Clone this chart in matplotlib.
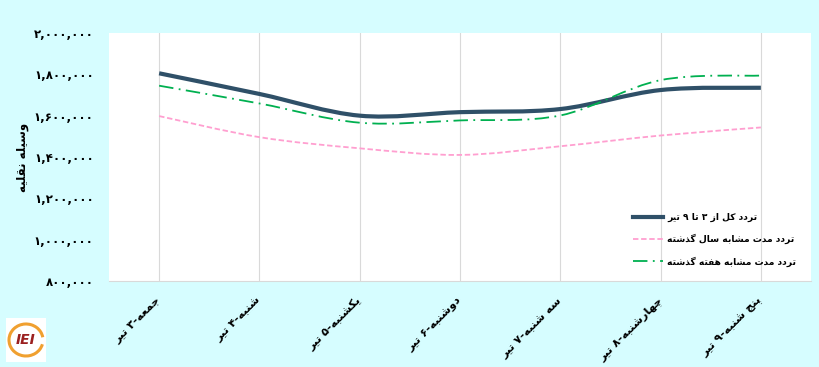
import numpy as np
import matplotlib
matplotlib.use("Agg")
import matplotlib.pyplot as plt
from matplotlib.path import Path
from matplotlib.patches import PathPatch, Rectangle, Arc
from matplotlib.lines import Line2D
from matplotlib.ticker import FuncFormatter, MultipleLocator

plt.rcParams['font.family'] = ['DejaVu Sans', 'Noto Sans']

# data
days = ["جمعه-۳ تیر", "شنبه-۴ تیر", "یکشنبه-۵ تیر", "دوشنبه-۶ تیر",
        "سه شنبه-۷ تیر", "چهارشنبه-۸ تیر", "پنج شنبه-۹ تیر"]
total_week = [1805000, 1705000, 1600000, 1617000, 1632000, 1724000, 1735000]
last_year = [1598000, 1496000, 1442000, 1410000, 1452000, 1504000, 1543000]
last_week = [1745000, 1659000, 1566000, 1577000, 1601000, 1772000, 1794000]
series_names = ["تردد کل از ۳ تا ۹ تیر", "تردد مدت مشابه سال گذشته",
                "تردد مدت مشابه هفته گذشته"]
ylabel = "وسیله نقلیه"

# simple arabic/persian shaping (no reshaper lib available)
FORMS = {
    'ا': (0xFE8D, 0xFE8E), 'ب': (0xFE8F, 0xFE90, 0xFE91, 0xFE92),
    'پ': (0xFB56, 0xFB57, 0xFB58, 0xFB59), 'ت': (0xFE95, 0xFE96, 0xFE97, 0xFE98),
    'ج': (0xFE9D, 0xFE9E, 0xFE9F, 0xFEA0), 'چ': (0xFB7A, 0xFB7B, 0xFB7C, 0xFB7D),
    'د': (0xFEA9, 0xFEAA), 'ذ': (0xFEAB, 0xFEAC), 'ر': (0xFEAD, 0xFEAE),
    'ز': (0xFEAF, 0xFEB0), 'س': (0xFEB1, 0xFEB2, 0xFEB3, 0xFEB4),
    'ش': (0xFEB5, 0xFEB6, 0xFEB7, 0xFEB8), 'ع': (0xFEC9, 0xFECA, 0xFECB, 0xFECC),
    'ف': (0xFED1, 0xFED2, 0xFED3, 0xFED4), 'ق': (0xFED5, 0xFED6, 0xFED7, 0xFED8),
    'ک': (0xFB8E, 0xFB8F, 0xFB90, 0xFB91), 'گ': (0xFB92, 0xFB93, 0xFB94, 0xFB95),
    'ل': (0xFEDD, 0xFEDE, 0xFEDF, 0xFEE0), 'م': (0xFEE1, 0xFEE2, 0xFEE3, 0xFEE4),
    'ن': (0xFEE5, 0xFEE6, 0xFEE7, 0xFEE8), 'ه': (0xFEE9, 0xFEEA, 0xFEEB, 0xFEEC),
    'و': (0xFEED, 0xFEEE), 'ی': (0xFBFC, 0xFBFD, 0xFBFE, 0xFBFF),
}


def rtl(s):
    out = []
    for i, c in enumerate(s):
        if c not in FORMS:
            out.append(c)
            continue
        f = FORMS[c]
        prev = s[i - 1] if i > 0 else ''
        nxt = s[i + 1] if i + 1 < len(s) else ''
        jp = prev in FORMS and len(FORMS[prev]) == 4
        jn = len(f) == 4 and nxt in FORMS
        if jp and jn:
            out.append(chr(f[3]))
        elif jp:
            out.append(chr(f[1]))
        elif jn:
            out.append(chr(f[2]))
        else:
            out.append(chr(f[0]))
    return ''.join(out)[::-1]


def fa_digits(v, pos=None):
    s = f"{v:,.0f}"
    return s.translate(str.maketrans("0123456789", "۰۱۲۳۴۵۶۷۸۹"))


def smooth_path(xs, ys):
    # excel-like smoothed line (catmull-rom as cubic bezier)
    pts = np.column_stack([xs, ys]).astype(float)
    verts = [pts[0]]
    codes = [Path.MOVETO]
    n = len(pts)
    for i in range(n - 1):
        p0 = pts[i - 1] if i > 0 else pts[i]
        p1 = pts[i]
        p2 = pts[i + 1]
        p3 = pts[i + 2] if i + 2 < n else pts[i + 1]
        c1 = p1 + (p2 - p0) / 6.0
        c2 = p2 - (p3 - p1) / 6.0
        verts += [c1, c2, p2]
        codes += [Path.CURVE4] * 3
    return Path(verts, codes)


bg = '#d6fdff'
c_total = '#2f5068'
c_year = '#ff9fd0'
c_week = '#00b050'

fig = plt.figure(figsize=(8.2, 3.67), dpi=100, facecolor=bg)
ax = fig.add_axes([109 / 820, 1 - 281 / 367, 702 / 820, 248 / 367])
ax.set_facecolor('white')

x = np.arange(len(days))
styles = [
    (total_week, c_total, 3.0, '-'),
    (last_year, c_year, 1.3, (0, (3, 1.5))),
    (last_week, c_week, 1.3, (0, (8, 3, 1, 3))),
]
handles = []
for vals, col, lw, ls in styles:
    patch = PathPatch(smooth_path(x, vals), fill=False, edgecolor=col,
                      linewidth=lw, linestyle=ls, capstyle='butt', zorder=3)
    ax.add_patch(patch)
    handles.append(Line2D([], [], color=col, linewidth=lw, linestyle=ls))

ax.set_xlim(-0.5, len(days) - 0.5)
ax.set_ylim(800000, 2000000)
ax.yaxis.set_major_locator(MultipleLocator(200000))
ax.yaxis.set_major_formatter(FuncFormatter(fa_digits))
ax.set_xticks(x)
ax.set_xticklabels([rtl(d) for d in days], rotation=45, ha='right',
                   va='center', rotation_mode='anchor', fontsize=8.2,
                   fontweight='bold')
ax.grid(axis='x', color='#d9d9d9', linewidth=0.8)
ax.set_axisbelow(True)
ax.tick_params(axis='both', length=0)
ax.tick_params(axis='x', pad=13)
ax.tick_params(axis='y', pad=11, labelsize=8.5)
for lab in ax.get_yticklabels():
    lab.set_fontweight('bold')
for sp in ['top', 'right', 'left']:
    ax.spines[sp].set_visible(False)
ax.spines['bottom'].set_color('#d9d9d9')

fig.text(23 / 820, 1 - 157 / 367, rtl(ylabel), rotation=90, ha='center',
         va='center', fontsize=8.5, fontweight='bold')

leg = ax.legend(handles, [rtl(s) for s in series_names], loc='lower left',
                bbox_to_anchor=(0.735, 0.025), frameon=False, handlelength=3.2,
                handletextpad=0.5, labelspacing=1.3,
                prop={'size': 6.6, 'weight': 'bold'})

# logo placeholder
fig.patches.append(Rectangle((6 / 820, 1 - 362 / 367), 40 / 820, 44 / 367,
                             transform=fig.transFigure, facecolor='white',
                             edgecolor='none'))
fig.patches.append(Arc((26 / 820, 1 - 340 / 367), 34 / 820, 32 / 367,
                       theta1=20, theta2=330, transform=fig.transFigure,
                       color='#f0a030', linewidth=2.2))
fig.text(26 / 820, 1 - 340 / 367, "IEI", ha='center', va='center',
         fontsize=10, fontweight='bold', style='italic', color='#9b2020')

fig.savefig("out.png", dpi=100, facecolor=bg)
